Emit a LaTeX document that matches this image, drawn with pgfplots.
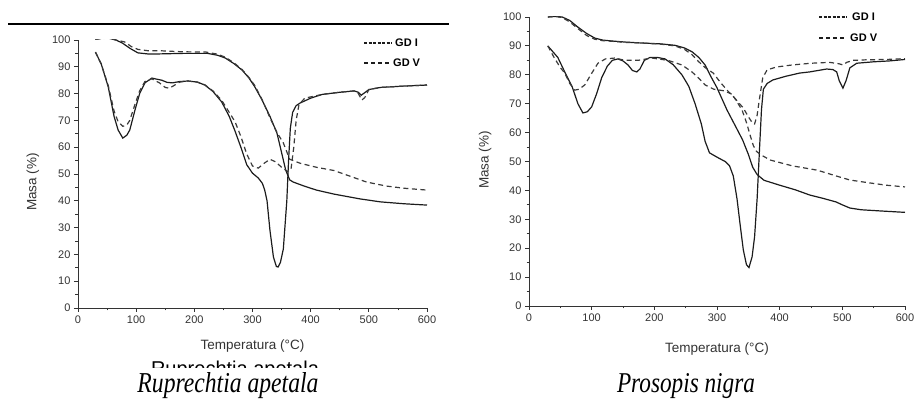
\documentclass[border=0pt]{standalone}
\usepackage{fontspec}
\setmainfont{Liberation Sans}
\newfontfamily\capfont{Liberation Serif}
\usepackage{graphicx}
\usepackage{pgfplots}
\pgfplotsset{compat=1.18}

\definecolor{ink}{HTML}{1C1C1C}
\definecolor{inkd}{HTML}{3A3A3A}
\definecolor{tickc}{HTML}{333333}

\pgfplotsset{
  tga/.style={
    scale only axis,
    axis lines=left,
    axis line style={tickc, line width=0.9pt, -},
    xmin=0, xmax=600, ymin=0, ymax=100,
    xtick={0,100,...,600}, minor x tick num=1,
    ytick={0,10,...,100}, minor y tick num=1,
    tick align=outside,
    major tick length=4pt, minor tick length=2.5pt,
    every tick/.style={tickc, line width=0.8pt},
    ticklabel style={font=\fontsize{11}{13}\selectfont, text=tickc},
    /pgf/number format/assume math mode=true,
    xlabel={Temperatura (°C)},
    ylabel={Masa (\%)},
    label style={font=\fontsize{13.5}{15}\selectfont, text=tickc},
  },
  gdI/.style={ink, line width=1.2pt, solid},
  gdV/.style={inkd, line width=1.2pt, dash pattern=on 5pt off 3.5pt},
}

\begin{document}
\begin{tikzpicture}[x=1pt,y=1pt]
\useasboundingbox (0,0) rectangle (914,399);
\draw[line width=1.2pt] (8,375) -- (449,375);

% ---------------- Left: Ruprechtia apetala ----------------
\begin{axis}[tga, at={(78pt,91pt)}, anchor=south west, width=349pt, height=268pt,
  xlabel style={at={(axis description cs:0.5,0)}, anchor=center, yshift=-38pt},
  ylabel style={at={(axis description cs:-0.129,0.47)}, anchor=center, rotate=0}]
% GD I TG
\addplot[gdI] coordinates {(30,100.3)(40,100.6)(52,100.7)(65,100)(76,98.9)(90,96.8)(103,95.2)(120,94.8)(138,94.8)(180,95)(223,95)(240,94.3)(253,93.3)(268,91.2)(282,88.8)(294,85.8)(304,82.5)(316,77.8)(330,71.5)(342,65.3)(350,58)(357,51.5)(364,47.8)(370,47)(390,45.4)(410,44)(440,42.5)(485,40.7)(520,39.6)(560,38.9)(600,38.4)};
% GD I DTG
\addplot[gdI] coordinates {(30,95.5)(40,91)(52,82.5)(62,71.5)(69,66.4)(77,63.4)(84,64.5)(89,66.4)(98,73.9)(106,80)(115,84)(127,85.8)(135,85.4)(144,85)(153,84.2)(162,84)(175,84.5)(189,84.7)(205,84.3)(218,83.2)(232,80.8)(247,76.9)(260,71.5)(270,66)(280,60)(290,53.5)(300,50.3)(310,48.5)(317,46.5)(321,44)(325,40)(330,29)(336,19)(341,15.5)(344,15.3)(348,17)(353,22)(359,40)(362,55)(365,67)(369,73)(375,75.5)(382,76.5)(400,78.3)(420,79.7)(450,80.5)(475,81)(482,80.5)(487,79.4)(492,80.2)(500,81.5)(520,82.3)(560,82.8)(600,83.2)};
% GD V TG
\addplot[gdV] coordinates {(30,100.3)(45,100.6)(55,100.6)(65,100)(80,99.3)(92,97.5)(103,96.5)(120,96)(140,96)(180,95.6)(220,95.5)(240,94.7)(253,93.6)(268,91.5)(282,89)(294,86)(304,83)(316,78)(330,71)(342,65.5)(353,61.6)(364,55.5)(382,54)(410,52.5)(440,51.3)(470,49)(496,47)(530,45.5)(560,44.7)(600,44)};
% GD V DTG
\addplot[gdV] coordinates {(30,95.5)(40,91)(52,83)(62,73.5)(69,69.5)(77,67.8)(84,68.3)(89,70)(98,76)(106,81)(115,84.5)(127,85.5)(140,84)(150,82.3)(157,82)(165,83)(175,84.3)(189,84.7)(205,84.3)(218,83.3)(232,81)(247,77.5)(260,73)(270,69.5)(280,64)(290,57.5)(300,53)(310,52.2)(320,54)(330,55.5)(340,54.5)(350,52.5)(360,51)(366,51.5)(371,60)(375,70)(380,76)(390,78.3)(420,79.7)(450,80.5)(475,81)(482,80)(488,77.6)(493,78.5)(500,81.5)(520,82.3)(560,82.8)(600,83.2)};
\end{axis}

% ---------------- Right: Prosopis nigra ----------------
\begin{axis}[tga, at={(529pt,93pt)}, anchor=south west, width=376pt, height=289pt,
  xlabel style={at={(axis description cs:0.5,0)}, anchor=center, yshift=-43pt},
  ylabel style={at={(axis description cs:-0.117,0.505)}, anchor=center, rotate=0}]
% GD I TG
\addplot[gdI] coordinates {(30,100)(42,100.2)(53,100)(65,98.8)(78,96.5)(92,94.3)(105,92.7)(118,92)(132,91.7)(155,91.3)(180,91)(210,90.7)(233,90.2)(248,89.3)(260,88)(271,86)(281,83.4)(290,79.5)(300,75.5)(316,67.8)(330,62)(341,57.4)(350,52.5)(357,48)(364,45.5)(375,43.5)(400,41.8)(425,40.2)(448,38.4)(470,37.2)(490,36)(500,35)(512,33.9)(530,33.3)(560,32.9)(600,32.4)};
% GD I DTG
\addplot[gdI] coordinates {(30,90)(38,88)(46,86)(57,81)(69,75.8)(78,70)(86,66.8)(93,67.2)(100,68.9)(108,73.5)(116,79)(125,83)(133,85)(142,85.5)(150,84.8)(158,83.4)(165,81.5)(172,81)(177,82)(184,85)(193,86)(205,86)(217,85.5)(230,83.5)(244,80)(255,76)(265,70)(275,63)(281,57)(288,53)(300,51.5)(313,50)(320,48.5)(326,45)(332,37)(337,28)(342,19.4)(347,14.3)(351,13.3)(356,17)(360,24)(364,37)(368,55)(371,68)(374,75)(380,77)(389,78.2)(410,79.5)(432,80.6)(448,81)(475,82)(485,81.8)(491,81)(495,78)(501,75.4)(506,78)(512,82.4)(523,84)(550,84.5)(575,84.8)(600,85.3)};
% GD V TG
\addplot[gdV] coordinates {(30,100)(42,100.2)(53,99.8)(65,98.3)(78,96)(92,93.6)(105,92.3)(118,91.8)(132,91.6)(155,91.2)(180,91)(210,90.6)(233,90)(248,88.8)(260,87)(271,84.5)(281,82.5)(294,80.6)(305,77.5)(316,74.7)(328,72)(340,67.8)(347,63.5)(353,59)(358,55.5)(363,53.5)(370,52.3)(385,50.5)(420,48.5)(460,47)(490,45)(512,43.6)(540,42.7)(570,41.8)(600,41.2)};
% GD V DTG
\addplot[gdV] coordinates {(30,90)(40,86)(50,82.5)(57,80.6)(65,77)(73,74.7)(80,75)(89,76.5)(100,80.5)(110,84)(122,85.5)(137,85.8)(153,85)(174,85)(196,85.8)(222,85)(244,83.4)(260,81)(270,79)(281,76.5)(295,75)(310,74.5)(322,73.5)(332,71)(342,68.5)(350,65.5)(356,63.5)(360,63)(364,66)(368,72)(373,79)(380,81.7)(395,82.7)(420,83.4)(450,84)(480,84.3)(495,83.8)(501,83.4)(507,84.3)(517,85)(540,85.2)(570,85.3)(600,85.6)};
\end{axis}

% legends
\draw[ink, line width=1.2pt, dash pattern=on 3pt off 1.5pt] (364,356) -- (392,356);
\node[anchor=west, inner sep=0, font=\bfseries\fontsize{11}{13}\selectfont] at (395,356) {GD I};
\draw[ink, line width=1.2pt, dash pattern=on 4pt off 3pt] (364,336) -- (390,336);
\node[anchor=west, inner sep=0, font=\bfseries\fontsize{11}{13}\selectfont] at (393,336) {GD V};

\draw[ink, line width=1.2pt, dash pattern=on 3pt off 1.5pt] (819,382) -- (847,382);
\node[anchor=west, inner sep=0, font=\bfseries\fontsize{11}{13}\selectfont] at (852,382) {GD I};
\draw[ink, line width=1.2pt, dash pattern=on 4pt off 3pt] (819,361) -- (845,361);
\node[anchor=west, inner sep=0, font=\bfseries\fontsize{11}{13}\selectfont] at (850,361) {GD V};

% partially cut sub-caption (only its top shows)
\begin{scope}
\clip (100,31) rectangle (400,42);
\node[anchor=base, inner sep=0, font=\fontsize{20}{22}\selectfont] at (235,23.5) {Ruprechtia apetala};
\end{scope}

% captions
\node[anchor=base, inner sep=0] at (228,6) {\resizebox{181pt}{20pt}{\capfont\itshape Ruprechtia apetala}};
\node[anchor=base, inner sep=0] at (686,6) {\resizebox{138pt}{19pt}{\capfont\itshape Prosopis nigra}};
\end{tikzpicture}
\end{document}
